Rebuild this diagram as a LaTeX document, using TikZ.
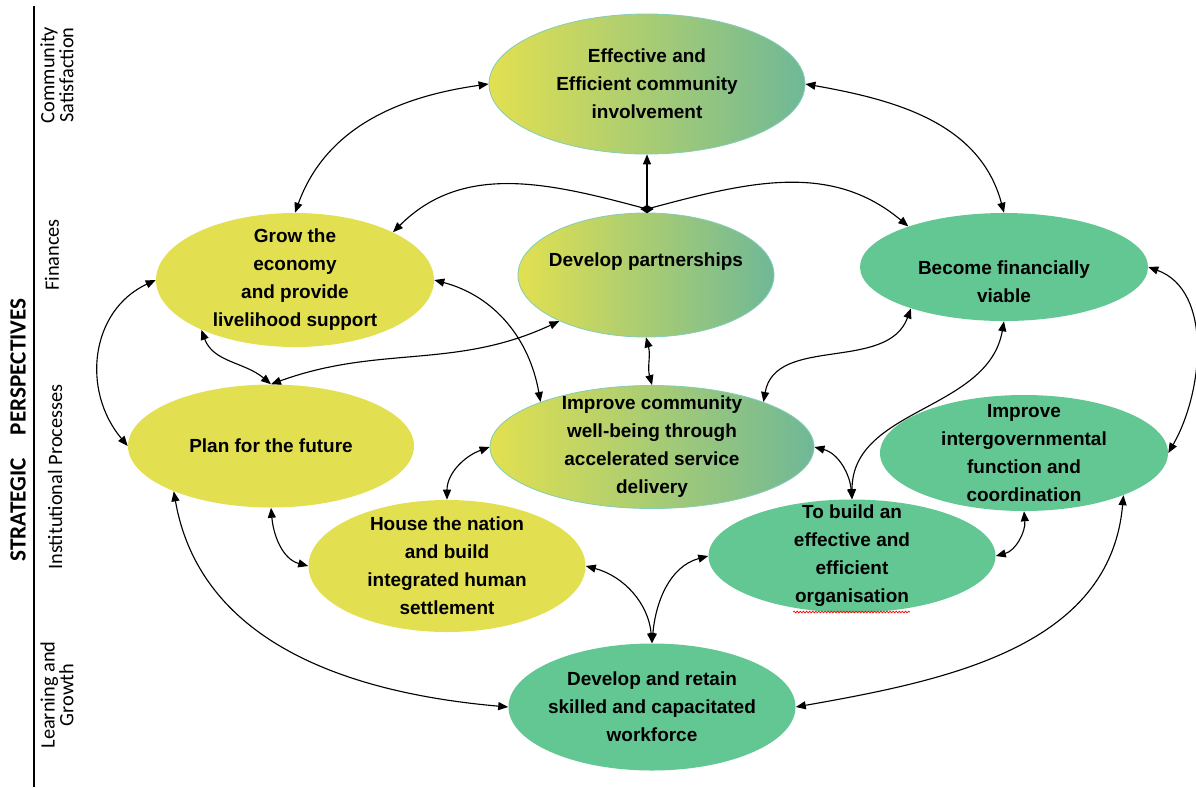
\documentclass[tikz,border=0pt]{standalone}
\usepackage{fontspec}
\setmainfont{Liberation Sans}
\newfontfamily\sidefont{Carlito}
\usepackage{tikz}
\usetikzlibrary{arrows.meta,positioning,shapes.geometric,decorations.pathmorphing}
\definecolor{gold}{HTML}{E2E050}
\definecolor{mint}{HTML}{63C794}
\definecolor{sea}{HTML}{6FB897}
\definecolor{rim}{HTML}{86CDB6}
\tikzset{goal/.style={ellipse,inner sep=0pt}, sun/.style={goal,fill=gold}, leaf/.style={goal,fill=mint}, blend/.style={goal,left color=gold,right color=sea,draw=rim,line width=0.6pt}, txt/.style={font=\bfseries\fontsize{13.5}{19.9}\selectfont,align=center,inner sep=0pt}, link/.style={{Triangle[length=2.5mm,width=2mm]}-{Triangle[length=2.5mm,width=2mm]},line width=0.8pt}, feed/.style={-{Triangle[length=2.5mm,width=2mm]},line width=0.8pt}, hub/.style={diamond,fill=black,inner sep=0pt,minimum width=0.34cm,minimum height=0.22cm}, persp/.style={rotate=90,font=\sidefont\fontsize{14.5}{13.5}\selectfont,align=center}}

\begin{document}
\begin{tikzpicture}[x=1cm,y=1cm]
\useasboundingbox (0,0) rectangle (29.9,-19.675);
% perspectives down the left edge
\draw[line width=0.8pt] (0.85,-0.15) -- (0.85,-19.675);
\node[persp,font=\sidefont\bfseries\fontsize{16.5}{16}\selectfont] (strategic) at (0.45,-10.75) {STRATEGIC\quad PERSPECTIVES};
\node[persp] (satisfaction) at (1.425,-1.875) {Community\\Satisfaction};
\node[persp] (finances) at (1.3,-6.375) {Finances};
\node[persp] (processes) at (1.375,-11.925) {Institutional Processes};
\node[persp] (growth) at (1.425,-17.375) {Learning and\\Growth};
% objectives
\node[blend,minimum width=7.9cm,minimum height=3.5cm,label={[txt]center:Effective and\\Efficient community\\involvement}] (involve) at (16.175,-2.1) {};
\node[sun,minimum width=6.95cm,minimum height=3.35cm,label={[txt]center:Grow the\\economy\\and provide\\livelihood support}] (economy) at (7.375,-7) {};
\node[blend,minimum width=6.4cm,minimum height=3.1cm,label={[txt,yshift=0.325cm]center:Develop partnerships}] (partners) at (16.15,-6.875) {};
\node[leaf,minimum width=7.2cm,minimum height=2.7cm,label={[txt,yshift=-0.375cm]center:Become financially\\viable}] (viable) at (25.1,-6.675) {};
\node[sun,minimum width=7.15cm,minimum height=3.075cm,label={[txt]center:Plan for the future}] (future) at (6.775,-11.15) {};
\node[blend,minimum width=8.1cm,minimum height=3.075cm,label={[txt]center:Improve community\\well-being through\\accelerated service\\delivery}] (wellbeing) at (16.3,-11.175) {};
\node[leaf,minimum width=7.2cm,minimum height=2.9cm,label={[txt]center:Improve\\intergovernmental\\function and\\coordination}] (intergov) at (25.6,-11.325) {};
\node[sun,minimum width=6.925cm,minimum height=3.3cm,label={[txt]center:House the nation\\and build\\integrated human\\settlement}] (housing) at (11.175,-14.15) {};
\node[leaf,minimum width=7.175cm,minimum height=2.825cm,label={[txt]center:To build an\\effective and\\efficient\\organisation}] (organise) at (21.3,-13.9) {};
\node[leaf,minimum width=7.175cm,minimum height=3.175cm,label={[txt]center:Develop and retain\\skilled and capacitated\\workforce}] (workforce) at (16.3,-17.675) {};
\node[hub] (hub) at (16.175,-5.225) {};
\draw[red,line width=0.5pt,decorate,decoration={snake,amplitude=0.6pt,segment length=2.2pt}] (19.83,-15.3) -- (22.75,-15.3);
% links
\draw[link] (involve.west) to[out=188,in=70] (economy.north);
\draw[link] (involve.east) to[out=-10,in=105] (viable.north);
\draw[feed] (hub.center) -- (involve.south);
\draw[feed] (hub.center) to[out=165,in=45] (economy.26);
\draw[feed] (hub.center) to[out=15,in=140] (viable.157);
\draw[link] (economy.west) to[out=205,in=130,looseness=1.1] (future.west);
\draw[link] (economy.208) to[out=-70,in=140] (future.north);
\draw[link] (partners.208) to[out=205,in=20] (future.north);
\draw[link] (economy.east) to[out=-15,in=100] (wellbeing.158);
\draw[link] (partners.south) to[out=-75,in=105] (wellbeing.north);
\draw[link] (viable.204) to[out=250,in=80] (wellbeing.22);
\draw[link] (viable.south) to[out=-100,in=90] (organise.north);
\draw[link] (viable.east) to[out=-20,in=60,looseness=0.95] (intergov.east);
\draw[link] (wellbeing.east) to[out=-15,in=95] (organise.north);
\draw[link] (wellbeing.west) to[out=200,in=90] (housing.north);
\draw[link] (future.south) to[out=-85,in=165] (housing.west);
\draw[link] (future.205) to[out=-80,in=175] (workforce.west);
\draw[link] (housing.east) to[out=-15,in=95] (workforce.north);
\draw[link] (organise.west) to[out=195,in=85] (workforce.north);
\draw[link] (intergov.south) to[out=-85,in=15] (organise.east);
\draw[link] (intergov.-23) to[out=-95,in=10] (workforce.east);
\end{tikzpicture}
\end{document}
